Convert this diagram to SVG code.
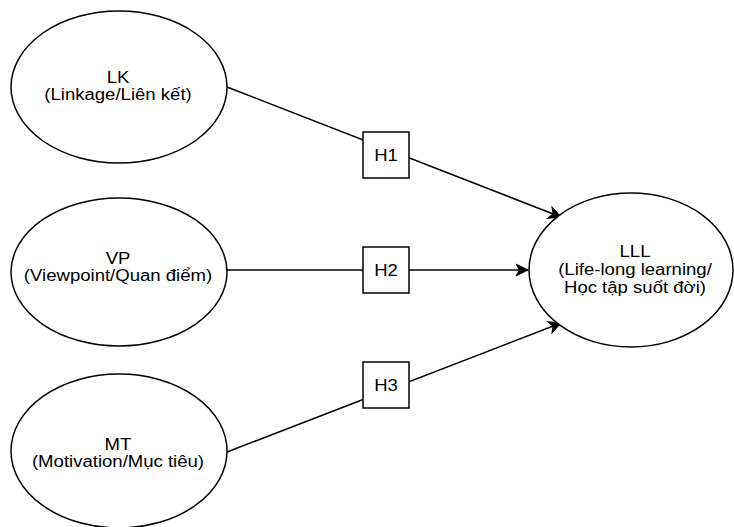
<svg xmlns="http://www.w3.org/2000/svg" width="734" height="527" viewBox="0 0 734 527">
  <style>
    .node { fill: #ffffff; stroke: #000000; stroke-width: 1.5; }
    .lbl { font-family: "Liberation Sans", Arial, sans-serif; font-size: 16px; fill: #000000; text-anchor: middle; }
    .edge { fill: none; stroke: #000000; stroke-width: 1.5; }
  </style>
  <defs>
    <marker id="arrow" viewBox="0 0 13 12" refX="12" refY="6" markerWidth="13" markerHeight="12" markerUnits="userSpaceOnUse" orient="auto" overflow="visible">
      <path d="M0,0 L12,6 L0,12 L3.5,6 Z" fill="#000000" stroke="#000000" stroke-width="1" stroke-linejoin="miter"/>
    </marker>
  </defs>
  <rect width="734" height="527" fill="#ffffff"/>

  <g id="connectors">
    <line class="edge" x1="227" y1="87" x2="561" y2="217" marker-end="url(#arrow)"/>
    <line class="edge" x1="227" y1="270" x2="528" y2="270" marker-end="url(#arrow)"/>
    <line class="edge" x1="227" y1="452" x2="561" y2="323" marker-end="url(#arrow)"/>
  </g>

  <g id="LK">
    <ellipse class="node" cx="119" cy="87" rx="108" ry="76"/>
    <g transform="translate(118,0) scale(1.16,1)">
      <text class="lbl" x="0" y="83">LK</text>
      <text class="lbl" x="0" y="100">(Linkage/Liên kết)</text>
    </g>
  </g>

  <g id="VP">
    <ellipse class="node" cx="119" cy="272" rx="108" ry="74"/>
    <g transform="translate(118,0) scale(1.16,1)">
      <text class="lbl" x="0" y="264">VP</text>
      <text class="lbl" x="0" y="281">(Viewpoint/Quan điểm)</text>
    </g>
  </g>

  <g id="MT">
    <ellipse class="node" cx="119" cy="451" rx="108" ry="77"/>
    <g transform="translate(118,0) scale(1.16,1)">
      <text class="lbl" x="0" y="450">MT</text>
      <text class="lbl" x="0" y="467">(Motivation/Mục tiêu)</text>
    </g>
  </g>

  <g id="LLL">
    <ellipse class="node" cx="631" cy="270" rx="102" ry="77"/>
    <g transform="translate(635,0) scale(1.16,1)">
      <text class="lbl" x="0" y="257">LLL</text>
      <text class="lbl" x="0" y="275">(Life-long learning/</text>
      <text class="lbl" x="0" y="293">Học tập suốt đời)</text>
    </g>
  </g>

  <g id="H1">
    <rect class="node" x="363" y="132" width="46" height="46"/>
    <g transform="translate(386,0) scale(1.16,1)"><text class="lbl" x="0" y="161">H1</text></g>
  </g>
  <g id="H2">
    <rect class="node" x="363" y="247" width="46" height="46"/>
    <g transform="translate(386,0) scale(1.16,1)"><text class="lbl" x="0" y="276">H2</text></g>
  </g>
  <g id="H3">
    <rect class="node" x="363" y="362" width="46" height="46"/>
    <g transform="translate(386,0) scale(1.16,1)"><text class="lbl" x="0" y="391">H3</text></g>
  </g>
</svg>
